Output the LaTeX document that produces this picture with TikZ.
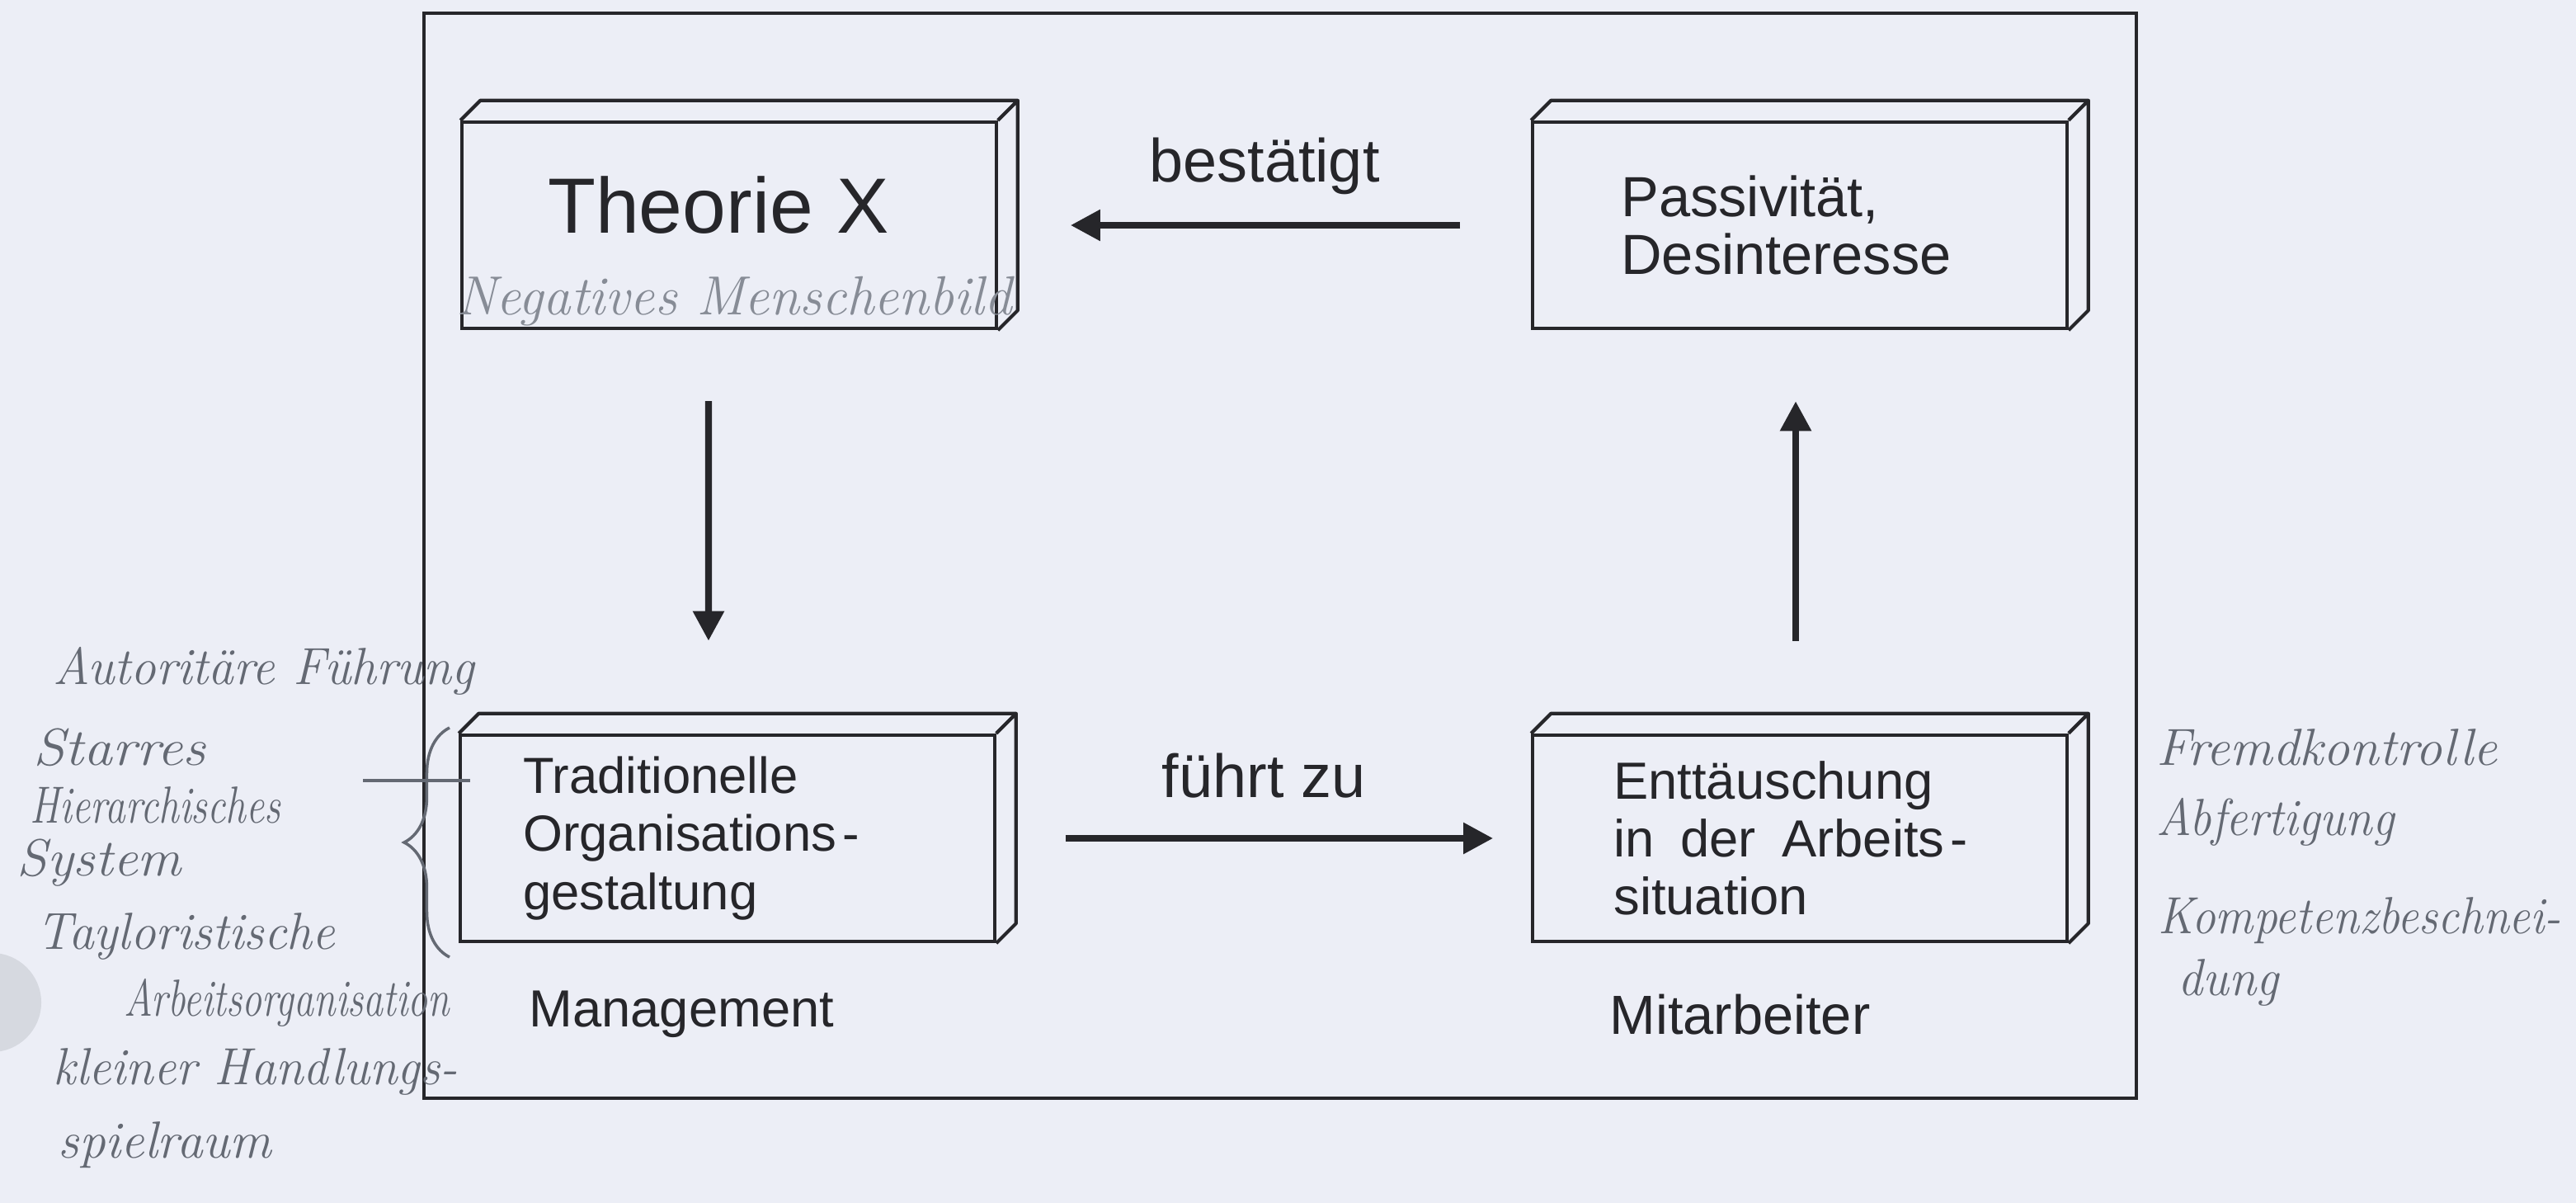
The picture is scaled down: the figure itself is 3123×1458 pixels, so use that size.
\documentclass[tikz,border=0pt]{standalone}
\usepackage{fontspec}
\usetikzlibrary{arrows.meta,positioning,decorations.pathreplacing}
\newfontfamily\printfont{Liberation Sans}
\definecolor{paper}{RGB}{236,238,246}
\definecolor{xink}{RGB}{38,38,42}
\definecolor{pencil}{RGB}{100,105,115}
\definecolor{pencillight}{RGB}{135,140,150}
\definecolor{hole}{RGB}{214,217,224}

\begin{document}
\begin{tikzpicture}[x=0.01cm,y=-0.01cm,
  slab/.style={draw=xink, line width=1.2pt, minimum width=6.47cm, minimum height=2.5cm,
    inner xsep=0.76cm, text width=4.95cm, align=left, text=xink,
    font=\printfont\fontsize{17.5}{20}\selectfont},
  printtext/.style={text=xink, font=\printfont\fontsize{18}{20}\selectfont},
  flowlabel/.style={text=xink, font=\printfont\fontsize{21}{24}\selectfont},
  flow/.style={draw=xink, line width=2.4pt, -{Triangle[length=0.36cm,width=0.36cm]}},
  hand/.style={text=pencil, anchor=west, inner sep=0pt, font=\itshape\fontsize{18}{22}\selectfont}]
  \path[use as bounding box, fill=paper] (0,0) rectangle (3123,1458);
  \fill[hole] (-10,1215) circle[radius=0.6cm];
  % frame
  \draw[xink, line width=0.9pt] (514,16) rectangle (2590,1331);

  % the four slabs
  \node[slab] (theorie) at (884,273) {};
  \node[slab, inner xsep=1.07cm, text width=4.33cm, font=\printfont\fontsize{19.5}{20}\selectfont]
    (passiv) at (2182,273) {Passivität,\\Desinteresse};
  \node[slab] (tradition) at (882,1016) {Traditionelle\\Organisations\hspace{0.12em}-\\gestaltung};
  \node[slab, inner xsep=0.98cm, text width=4.51cm, font=\printfont\fontsize{18}{20}\selectfont]
    (enttaeusch) at (2182,1016) {Enttäuschung\\in\hspace{0.5em}der\hspace{0.5em}Arbeits\hspace{0.12em}-\\situation};
  \foreach \b in {theorie,passiv,tradition,enttaeusch}
    \draw[xink, line width=1.2pt, line join=round]
      (\b.north west) -- ++(0.24cm,0.24cm) -| ([shift={(0.24cm,0.24cm)}]\b.south east) -- (\b.south east)
      (\b.north east) -- ++(0.24cm,0.24cm);

  \node[text=xink, font=\printfont\fontsize{27}{30}\selectfont] (theorietitel)
    at ([shift={(-0.13cm,0.24cm)}]theorie.center) {Theorie\hspace{0.3em}X};
  \node[text=pencillight, font=\itshape\fontsize{19}{22}\selectfont] (menschenbild)
    at ([shift={(0.06cm,-0.92cm)}]theorie.center) {Negatives Menschenbild};

  \node[printtext, anchor=west] (management) at ([shift={(0.73cm,-0.86cm)}]tradition.south west) {Management};
  \node[printtext, anchor=west, font=\printfont\fontsize{19}{20}\selectfont] (mitarbeiter)
    at ([shift={(0.83cm,-0.86cm)}]enttaeusch.south west) {Mitarbeiter};

  % cycle
  \draw[flow, shorten <=0.86cm, shorten >=0.88cm] (passiv.west) -- (theorie.east)
    node[flowlabel, midway, yshift=0.72cm] (bestaetigt) {bestätigt};
  \draw[flow, shorten <=0.86cm, shorten >=1.12cm] ([xshift=-0.25cm]theorie.south) -- ([xshift=-0.23cm]tradition.north);
  \draw[flow, shorten <=0.84cm, shorten >=0.46cm] (tradition.east) -- (enttaeusch.west)
    node[flowlabel, midway, yshift=0.76cm] (fuehrtzu) {führt zu};
  \draw[flow, shorten <=1.12cm, shorten >=0.86cm] ([xshift=-0.05cm]enttaeusch.north) -- ([xshift=-0.05cm]passiv.south);

  % pencil notes
  \draw[pencil, line width=1pt, decorate, decoration={brace, amplitude=0.55cm}] (545,1160) -- (545,882);
  \draw[pencil, line width=1pt] (440,946) -- (570,946);
  \foreach \txt/\px/\py/\sx [count=\i] in {Autoritäre Führung/64/813/0.97, Starres/40/906/1.1,
      Hierarchisches/36/976/0.78, System/20/1046/1.05, Tayloristische/44/1135/0.97,
      Arbeitsorganisation/150/1215/0.76, kleiner Handlungs-/64/1299/0.96, spielraum/70/1388/1}
    \node[hand] (links\i) at (\px,\py) {\scalebox{\sx}[1]{\txt}};
  \foreach \txt/\px/\py/\sx [count=\i] in {Fremdkontrolle/2614/906/1.02, Abfertigung/2614/996/0.93,
      Kompetenzbeschnei-/2616/1116/0.91, dung/2640/1191/0.95}
    \node[hand] (rechts\i) at (\px,\py) {\scalebox{\sx}[1]{\txt}};
\end{tikzpicture}
\end{document}
